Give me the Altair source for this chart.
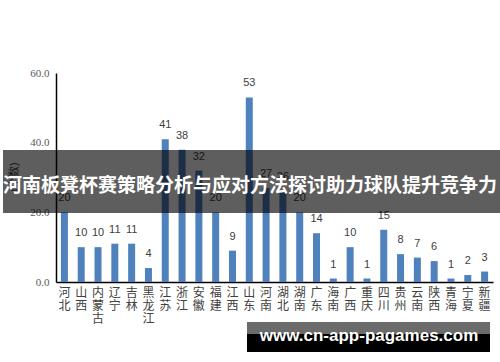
import altair as alt
import pandas as pd

provinces = ["河北", "山西", "内蒙古", "辽宁", "吉林", "黑龙江", "江苏", "浙江", "安徽", "福建",
             "江西", "山东", "河南", "湖北", "湖南", "广东", "海南", "广西", "重庆", "四川",
             "贵州", "云南", "陕西", "青海", "宁夏", "新疆"]
counts = [20, 10, 10, 11, 11, 4, 41, 38, 32, 20,
          9, 53, 27, 26, 20, 14, 1, 10, 1, 15,
          8, 7, 6, 1, 2, 3]
y_title = ["(个数)"]
banner_text = ["河南板凳杯赛策略分析与应对方法探讨助力球队提升竞争力"]
watermark_text = ["www.cn-app-pagames.com"]

df = pd.DataFrame({"province": provinces, "count": counts})

base = alt.Chart(df)

bars = base.mark_bar(size=7, color="#4f81bd").encode(
    x=alt.X("province:N", sort=None,
            scale=alt.Scale(paddingInner=0, paddingOuter=0),
            axis=alt.Axis(title=None, labelAngle=0, labelExpr="split(datum.label, '')",
                          labelLineHeight=13, labelBaseline="top", labelPadding=5,
                          labelFont="Noto Sans CJK SC", labelFontSize=12, labelColor="#404040",
                          ticks=False, tickSize=0, domainColor="#000000", domainWidth=1.5)),
    y=alt.Y("count:Q", scale=alt.Scale(domain=[0, 60]),
            axis=alt.Axis(title=None, values=[0, 10, 20, 30, 40, 50, 60], format=".1f",
                          grid=False, ticks=False, tickSize=0, labelPadding=7,
                          labelFont="Liberation Serif", labelFontSize=11, labelColor="#595959",
                          domainColor="#000000", domainWidth=1.5)),
)

labels = base.mark_text(dy=-9, baseline="bottom", font="Liberation Sans", fontSize=11,
                        color="#404040").encode(
    x=alt.X("province:N", sort=None),
    y="count:Q",
    text="count:Q",
)

ytitle = alt.Chart(pd.DataFrame({"t": y_title})).mark_text(
    angle=270, font="Noto Sans CJK SC", fontSize=11, color="#404040"
).encode(x=alt.value(-41), y=alt.value(104), text="t:N")

banner = alt.Chart(pd.DataFrame({"t": banner_text})).mark_rect(
    color="#000000", opacity=0.63
).encode(x=alt.value(-53), x2=alt.value(444), y=alt.value(77), y2=alt.value(140))

banner_label = alt.Chart(pd.DataFrame({"t": banner_text})).mark_text(
    font="Noto Sans CJK SC", fontSize=19, fontWeight="bold", color="#ffffff",
    align="center", baseline="middle"
).encode(x=alt.value(194), y=alt.value(113), text="t:N")

wm_top = alt.Chart(pd.DataFrame({"t": watermark_text})).mark_rect(
    color="#6b6b6b"
).encode(x=alt.value(191), x2=alt.value(434), y=alt.value(249), y2=alt.value(261))

wm_bottom = alt.Chart(pd.DataFrame({"t": watermark_text})).mark_rect(
    color="#000000"
).encode(x=alt.value(191), x2=alt.value(434), y=alt.value(261), y2=alt.value(279))

wm_label = alt.Chart(pd.DataFrame({"t": watermark_text})).mark_text(
    font="Liberation Sans", fontSize=17, fontWeight="bold", color="#ffffff",
    align="center", baseline="middle"
).encode(x=alt.value(313), y=alt.value(263), text="t:N")

chart = alt.layer(bars, labels, ytitle, banner, banner_label, wm_top, wm_bottom, wm_label).properties(
    width=437, height=209,
    padding={"left": 56, "top": 73, "right": 7, "bottom": 80},
    autosize="none",
    background="#ffffff",
).configure_view(stroke=None)

chart.save("out.html", embed_options={"renderer": "svg", "actions": False})
